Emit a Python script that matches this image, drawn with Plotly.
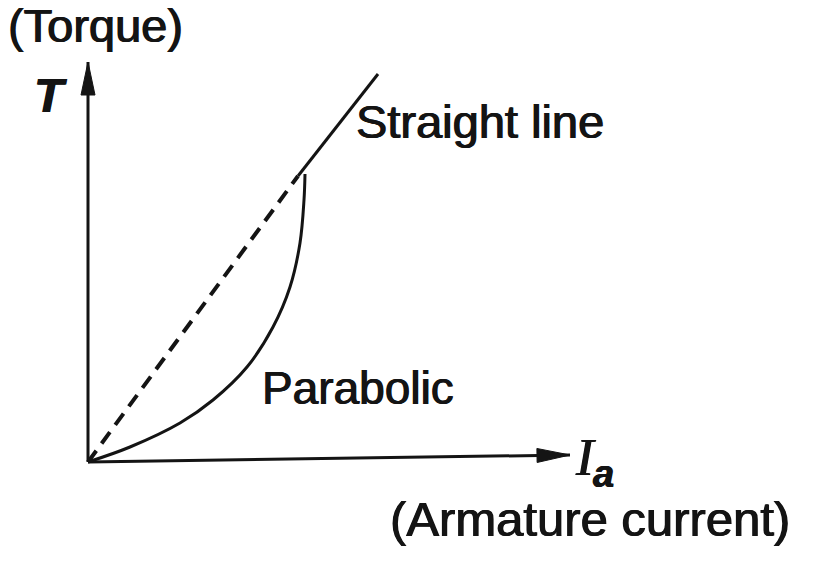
import numpy as np
import plotly.graph_objects as go

# ---- schematic data (chart units; origin = axis intersection) ----
curve_x = [0, 42, 92, 125, 159, 185, 202, 212, 216, 217]
curve_y = [0, 15, 39, 62, 95, 135, 175, 219, 262, 288]
straight_x = [210, 290]
straight_y = [286, 388]
dashed_x = [0, 210]
dashed_y = [0, 286]
x_axis_x = [0, 482]
x_axis_y = [0, 7]
y_axis_x = [0, 0]
y_axis_y = [0, 400]

labels = ["(Torque)", "T", "Straight line", "Parabolic", "(Armature current)"]

INK = "#141414"
ARROW_LEN = 33
ARROW_HALF = 7


def arrow_head(xs, ys):
    """Triangle polygon at the end of a segment, derived from the segment."""
    x0, x1 = xs
    y0, y1 = ys
    d = np.array([x1 - x0, y1 - y0], dtype=float)
    d /= np.linalg.norm(d)
    n = np.array([-d[1], d[0]])
    tip = np.array([x1, y1], dtype=float)
    base = tip - d * ARROW_LEN
    p1 = base + n * ARROW_HALF
    p2 = base - n * ARROW_HALF
    return [tip[0], p1[0], p2[0], tip[0]], [tip[1], p1[1], p2[1], tip[1]]


fig = go.Figure()

# axes
for ax_x, ax_y in [(x_axis_x, x_axis_y), (y_axis_x, y_axis_y)]:
    fig.add_trace(go.Scatter(x=ax_x, y=ax_y, mode="lines",
                             line=dict(color=INK, width=3), hoverinfo="skip"))
    hx, hy = arrow_head(ax_x, ax_y)
    fig.add_trace(go.Scatter(x=hx, y=hy, mode="lines", fill="toself",
                             fillcolor=INK, line=dict(color=INK, width=1),
                             hoverinfo="skip"))

# dashed line
fig.add_trace(go.Scatter(x=dashed_x, y=dashed_y, mode="lines",
                         line=dict(color=INK, width=4, dash="14px,9px"),
                         hoverinfo="skip"))
# parabolic curve
fig.add_trace(go.Scatter(x=curve_x, y=curve_y, mode="lines",
                         line=dict(color=INK, width=3, shape="spline", smoothing=1.0),
                         hoverinfo="skip"))
# straight line
fig.add_trace(go.Scatter(x=straight_x, y=straight_y, mode="lines",
                         line=dict(color=INK, width=3), hoverinfo="skip"))

sans = "Liberation Sans, Arial, sans-serif"
serif = "Liberation Serif, Times New Roman, serif"
thick = f"0.6px 0 0 {INK}, -0.6px 0 0 {INK}"


def f(family, size):
    return dict(family=family, size=size, color=INK, shadow=thick)


ann = [
    dict(x=7, y=436.5, text=labels[0], font=f(sans, 47)),
    dict(x=-38, y=367, text="<b><i>" + labels[1] + "</i></b>", font=f(sans, 48)),
    dict(x=392, y=340.5, text=labels[2], font=f(sans, 47)),
    dict(x=269.5, y=74, text=labels[3], font=f(sans, 46)),
    dict(x=497, y=5, text="<i>I</i>", font=f(serif, 53)),
    dict(x=515, y=-12, text="<b><i>a</i></b>", font=f(sans, 38)),
    dict(x=502, y=-57, text=labels[4], font=f(sans, 49)),
]
for a in ann:
    a.update(xref="x", yref="y", showarrow=False, xanchor="center", yanchor="middle")

fig.update_layout(
    width=836, height=567,
    margin=dict(l=0, r=0, t=0, b=0),
    paper_bgcolor="white", plot_bgcolor="white",
    showlegend=False,
    annotations=ann,
    xaxis=dict(range=[-88, 748], visible=False, fixedrange=True),
    yaxis=dict(range=[-105, 462], visible=False, fixedrange=True),
)

fig.write_html("out.html", config={"displayModeBar": False, "staticPlot": True},
               post_script="document.body.style.margin='0';")
